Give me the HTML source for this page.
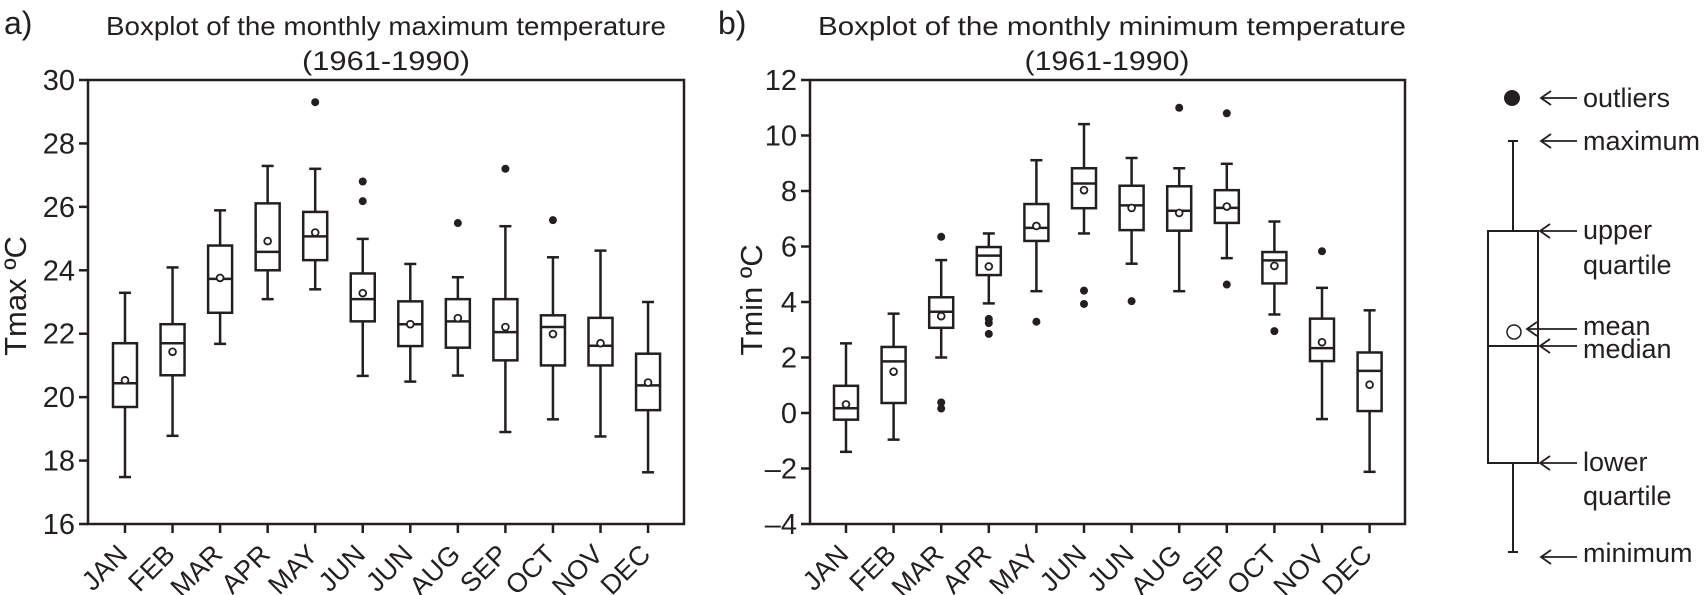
<!DOCTYPE html>
<html><head><meta charset="utf-8"><style>
body{margin:0;background:#fff;}
svg{display:block;font-family:"Liberation Sans",Arial,sans-serif;fill:#231f20;}
</style></head><body>
<svg id="chart" width="1708" height="595" viewBox="0 0 1708 595" xmlns="http://www.w3.org/2000/svg">
<text x="4" y="34" font-size="32">a)</text>
<text x="386" y="35" font-size="26" text-anchor="middle" textLength="560" lengthAdjust="spacingAndGlyphs">Boxplot of the monthly maximum temperature</text>
<text x="386" y="70" font-size="27" text-anchor="middle" textLength="168" lengthAdjust="spacingAndGlyphs">(1961-1990)</text>
<text x="718" y="34" font-size="32">b)</text>
<text x="1112" y="35" font-size="26" text-anchor="middle" textLength="588" lengthAdjust="spacingAndGlyphs">Boxplot of the monthly minimum temperature</text>
<text x="1107" y="70" font-size="27" text-anchor="middle" textLength="165" lengthAdjust="spacingAndGlyphs">(1961-1990)</text>
<text transform="translate(26,296) rotate(-90)" font-size="31" text-anchor="middle">Tmax ºC</text>
<text transform="translate(762,300) rotate(-90)" font-size="31" text-anchor="middle">Tmin ºC</text>
<g id="ga"></g><g id="gb"></g><g id="legend"></g>
</svg>
<script>
const months = ["JAN","FEB","MAR","APR","MAY","JUN","JUN","AUG","SEP","OCT","NOV","DEC"];
// panel a: Tmax
const maxMin = [17.48,18.78,21.68,23.09,23.40,20.67,20.49,20.68,18.90,19.30,18.76,17.63];
const maxQ1  = [19.69,20.69,22.66,24.00,24.32,22.39,21.61,21.56,21.16,21.00,21.00,19.59];
const maxMed = [20.44,21.70,23.73,24.58,25.07,23.09,22.30,22.39,22.05,22.21,21.62,20.37];
const maxQ3  = [21.70,22.30,24.78,26.11,25.84,23.90,23.02,23.09,23.09,22.58,22.50,21.37];
const maxMax = [23.29,24.09,25.89,27.29,27.20,24.99,24.20,23.78,25.39,24.41,24.62,23.00];
const maxMean= [20.53,21.43,23.76,24.92,25.19,23.28,22.30,22.49,22.21,21.99,21.70,20.46];
const maxOut = [[],[],[],[],[29.30],[26.80,26.18],[],[25.49],[27.2],[25.58],[],[]];
const maxTicks = [16,18,20,22,24,26,28,30];
// panel b: Tmin
const minMin = [-1.40,-0.96,2.00,3.95,4.39,6.47,5.38,4.39,5.58,3.55,-0.22,-2.12];
const minQ1  = [-0.24,0.36,3.07,4.97,6.20,7.38,6.59,6.57,6.85,4.67,1.87,0.07];
const minMed = [0.17,1.86,3.65,5.67,6.67,8.27,7.48,7.29,7.39,5.50,2.34,1.52];
const minQ3  = [0.98,2.38,4.17,5.98,7.53,8.82,8.19,8.17,8.03,5.80,3.40,2.18];
const minMax = [2.51,3.58,5.51,6.47,9.11,10.41,9.19,8.82,8.98,6.90,4.51,3.70];
const minMean= [0.31,1.49,3.49,5.28,6.74,8.03,7.39,7.21,7.44,5.30,2.55,1.02];
const minOut = [[],[],[6.35,0.38,0.16],[3.39,3.24,2.85],[3.29],[4.41,3.93],[4.03],[11.0],[10.8,4.63],[2.95],[5.83],[]];
const minTicks = [-4,-2,0,2,4,6,8,10,12];

const NS="http://www.w3.org/2000/svg";
function mk(p,tag,at){const e=document.createElementNS(NS,tag);for(const k in at)e.setAttribute(k,at[k]);p.appendChild(e);return e;}

function panel(g,key,left,right,x0,dx,ymin,ymax,ticks,lo,q1,med,q3,hi,mean,outs){
  const top=80,bot=524;
  const y=v=>bot-(v-ymin)/(ymax-ymin)*(bot-top);
  const x=i=>x0+i*dx;
  const fr=mk(g,'path',{d:`M${left} ${top}H${right}V${bot}H${left}Z`,fill:'none',stroke:'#231f20','stroke-width':2.5});
  
  
  ticks.forEach(t=>{
    const l=mk(g,'line',{x1:left-9,x2:left,y1:y(t),y2:y(t),stroke:'#231f20','stroke-width':2.5});
    
    
    const tx=mk(g,'text',{x:left-13,y:y(t)+10,'font-size':29,'text-anchor':'end'});
    tx.textContent=t<0?'\u2013'+Math.abs(t):String(t);
    
    
  });
  months.forEach((m,i)=>{
    const cx=x(i);
    const tk=mk(g,'line',{x1:cx,x2:cx,y1:bot,y2:bot+9,stroke:'#231f20','stroke-width':2.5});
    
    
    const lb=mk(g,'text',{transform:`translate(${cx+4},${bot+32}) rotate(-45)`,'font-size':27,'text-anchor':'end'});
    lb.textContent=m;
    
    
    const bg=mk(g,'g',{stroke:'#231f20','stroke-width':2.5,fill:'none'});
    
    
    mk(bg,'line',{x1:cx,x2:cx,y1:y(hi[i]),y2:y(q3[i])});
    mk(bg,'line',{x1:cx,x2:cx,y1:y(q1[i]),y2:y(lo[i])});
    mk(bg,'line',{x1:cx-6,x2:cx+6,y1:y(hi[i]),y2:y(hi[i])});
    mk(bg,'line',{x1:cx-6,x2:cx+6,y1:y(lo[i]),y2:y(lo[i])});
    mk(bg,'rect',{x:cx-12,y:y(q3[i]),width:24,height:y(q1[i])-y(q3[i]),fill:'#fff'});
    mk(bg,'line',{x1:cx-12,x2:cx+12,y1:y(med[i]),y2:y(med[i])});
    mk(bg,'circle',{cx:cx,cy:y(mean[i]),r:3.4,fill:'#fff','stroke-width':1.8});
    outs[i].forEach(v=>{
      const o=mk(g,'circle',{cx:cx,cy:y(v),r:4,fill:'#231f20'});
      
      
    });
  });
}
panel(document.getElementById('ga'),'tmax',88,684,125,47.55,16,30,maxTicks,maxMin,maxQ1,maxMed,maxQ3,maxMax,maxMean,maxOut);
panel(document.getElementById('gb'),'tmin',810,1405,846,47.6,-4,12,minTicks,minMin,minQ1,minMed,minQ3,minMax,minMean,minOut);

// legend
const L=document.getElementById('legend');
const s={stroke:'#231f20','stroke-width':2,fill:'none'};
mk(L,'circle',{cx:1512,cy:98,r:8,fill:'#231f20'});
mk(L,'line',Object.assign({x1:1513,x2:1513,y1:141,y2:231},s));
mk(L,'line',Object.assign({x1:1508,x2:1518,y1:141,y2:141},s));
mk(L,'line',Object.assign({x1:1513,x2:1513,y1:463,y2:552},s));
mk(L,'line',Object.assign({x1:1508,x2:1518,y1:552,y2:552},s));
mk(L,'rect',Object.assign({x:1488,y:231,width:50,height:232},s));
mk(L,'line',Object.assign({x1:1488,x2:1538,y1:346,y2:346},s));
mk(L,'circle',{cx:1514,cy:332,r:7,fill:'#fff',stroke:'#231f20','stroke-width':1.5});
const arrows=[[98,1541],[141,1541],[231,1540],[329,1527],[346,1540],[463,1540],[557,1541]];
arrows.forEach(a=>{
  const p=mk(L,'path',{d:`M${a[1]} ${a[0]}H1577M${a[1]+10} ${a[0]-7}L${a[1]} ${a[0]}L${a[1]+10} ${a[0]+7}`,fill:'none',stroke:'#231f20','stroke-width':1.8});
  
  
});
const labs=[["outliers",107],["maximum",150],["upper",239],["quartile",274],["mean",335],["median",358],["lower",471],["quartile",505],["minimum",562]];
labs.forEach(l=>{const t=mk(L,'text',{x:1583,y:l[1],'font-size':27});t.textContent=l[0];
  
  });
</script>
</body></html>
